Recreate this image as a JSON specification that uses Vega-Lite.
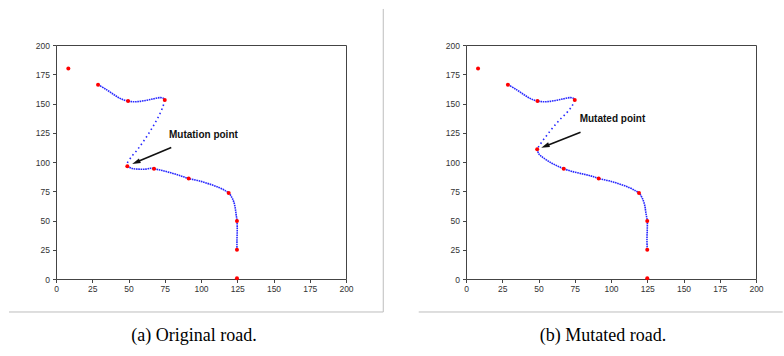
{
  "$schema": "https://vega.github.io/schema/vega-lite/v6.json",
  "padding": {"left": 8, "top": 7, "right": 0, "bottom": 0},
  "bounds": "flush",
  "spacing": 120,
  "background": "white",
  "config": {
    "view": {"stroke": "#444", "strokeWidth": 1},
    "axis": {"domain": false, "grid": false, "title": null, "tickColor": "#444", "tickSize": 3.5, "labelFont": "Liberation Sans", "labelFontSize": 8.5, "labelColor": "#333", "labelOverlap": false, "labelFlush": false},
    "axisX": {"labelPadding": 2},
    "axisY": {"labelPadding": 3},
    "title": {"font": "Liberation Serif", "fontSize": 18, "fontWeight": "normal", "color": "#000", "orient": "bottom", "offset": 15, "anchor": "middle"}
  },
  "datasets": {
    "origRed": [
      {"x": 8.5, "y": 180}, {"x": 29, "y": 166}, {"x": 49.7, "y": 152.1}, {"x": 75, "y": 152.9},
      {"x": 49.2, "y": 96.4}, {"x": 67.6, "y": 94.2}, {"x": 91.5, "y": 85.9}, {"x": 119.1, "y": 73.6},
      {"x": 124.8, "y": 49.6}, {"x": 124.8, "y": 25.1}, {"x": 124.8, "y": 0.6}
    ],
    "mutRed": [
      {"x": 8.3, "y": 180}, {"x": 28.9, "y": 166}, {"x": 49.3, "y": 152.1}, {"x": 75, "y": 152.9},
      {"x": 49.1, "y": 111}, {"x": 67.4, "y": 94.2}, {"x": 91.5, "y": 85.9}, {"x": 119.3, "y": 73.6},
      {"x": 125, "y": 49.6}, {"x": 125, "y": 25.1}, {"x": 125, "y": 0.6}
    ],
    "origBlue": [
      {"piece": "a", "style": "dense", "i": 0, "x": 29, "y": 166},
      {"piece": "a", "style": "dense", "i": 1, "x": 34.3, "y": 162.3},
      {"piece": "a", "style": "dense", "i": 2, "x": 40, "y": 157.5},
      {"piece": "a", "style": "dense", "i": 3, "x": 44.6, "y": 154.1},
      {"piece": "a", "style": "dense", "i": 4, "x": 49.7, "y": 152.1},
      {"piece": "a", "style": "dense", "i": 5, "x": 54.9, "y": 151.5},
      {"piece": "a", "style": "dense", "i": 6, "x": 61.8, "y": 152.6},
      {"piece": "a", "style": "dense", "i": 7, "x": 67.6, "y": 154.1},
      {"piece": "a", "style": "dense", "i": 8, "x": 72.2, "y": 155.0},
      {"piece": "a", "style": "dense", "i": 9, "x": 74.5, "y": 154.1},
      {"piece": "a", "style": "dense", "i": 10, "x": 75, "y": 152.9},
      {"piece": "b", "style": "sparse", "i": 11, "x": 75, "y": 152.9},
      {"piece": "b", "style": "sparse", "i": 12, "x": 73.8, "y": 147.5},
      {"piece": "b", "style": "sparse", "i": 13, "x": 71.0, "y": 139.5},
      {"piece": "b", "style": "sparse", "i": 14, "x": 67.6, "y": 131.8},
      {"piece": "b", "style": "sparse", "i": 15, "x": 64.1, "y": 124.7},
      {"piece": "b", "style": "sparse", "i": 16, "x": 60.2, "y": 117.5},
      {"piece": "b", "style": "sparse", "i": 17, "x": 56.1, "y": 110.4},
      {"piece": "b", "style": "sparse", "i": 18, "x": 52.2, "y": 104.7},
      {"piece": "b", "style": "sparse", "i": 19, "x": 49.2, "y": 99},
      {"piece": "b", "style": "sparse", "i": 20, "x": 49.2, "y": 96.4},
      {"piece": "c", "style": "dense", "i": 21, "x": 49.2, "y": 96.4},
      {"piece": "c", "style": "dense", "i": 22, "x": 52.6, "y": 94.4},
      {"piece": "c", "style": "dense", "i": 23, "x": 57.2, "y": 93.9},
      {"piece": "c", "style": "dense", "i": 24, "x": 61.8, "y": 93.9},
      {"piece": "c", "style": "dense", "i": 25, "x": 65.3, "y": 94.6},
      {"piece": "c", "style": "dense", "i": 26, "x": 67.6, "y": 94.2},
      {"piece": "c", "style": "dense", "i": 27, "x": 73.3, "y": 92.7},
      {"piece": "c", "style": "dense", "i": 28, "x": 80.2, "y": 90.4},
      {"piece": "c", "style": "dense", "i": 29, "x": 86, "y": 88.2},
      {"piece": "c", "style": "dense", "i": 30, "x": 91.5, "y": 85.9},
      {"piece": "c", "style": "dense", "i": 31, "x": 98.6, "y": 83.9},
      {"piece": "c", "style": "dense", "i": 32, "x": 105.5, "y": 81.3},
      {"piece": "c", "style": "dense", "i": 33, "x": 112.4, "y": 78.2},
      {"piece": "c", "style": "dense", "i": 34, "x": 117, "y": 75.3},
      {"piece": "c", "style": "dense", "i": 35, "x": 119.1, "y": 73.6},
      {"piece": "c", "style": "dense", "i": 36, "x": 121.6, "y": 69},
      {"piece": "c", "style": "dense", "i": 37, "x": 123.2, "y": 63.3},
      {"piece": "c", "style": "dense", "i": 38, "x": 124.1, "y": 56.2},
      {"piece": "c", "style": "dense", "i": 39, "x": 124.8, "y": 49.6},
      {"piece": "c", "style": "dense", "i": 40, "x": 125, "y": 41.9},
      {"piece": "c", "style": "dense", "i": 41, "x": 124.8, "y": 33.4},
      {"piece": "c", "style": "dense", "i": 42, "x": 124.8, "y": 25.1}
    ],
    "mutBlue": [
      {"piece": "a", "style": "dense", "i": 0, "x": 29, "y": 166},
      {"piece": "a", "style": "dense", "i": 1, "x": 34.3, "y": 162.3},
      {"piece": "a", "style": "dense", "i": 2, "x": 40, "y": 157.5},
      {"piece": "a", "style": "dense", "i": 3, "x": 44.6, "y": 154.1},
      {"piece": "a", "style": "dense", "i": 4, "x": 49.5, "y": 152.1},
      {"piece": "a", "style": "dense", "i": 5, "x": 54.9, "y": 151.5},
      {"piece": "a", "style": "dense", "i": 6, "x": 61.8, "y": 152.6},
      {"piece": "a", "style": "dense", "i": 7, "x": 67.6, "y": 154.1},
      {"piece": "a", "style": "dense", "i": 8, "x": 72.2, "y": 155.0},
      {"piece": "a", "style": "dense", "i": 9, "x": 74.5, "y": 154.1},
      {"piece": "a", "style": "dense", "i": 10, "x": 75, "y": 152.9},
      {"piece": "b", "style": "sparse", "i": 11, "x": 75, "y": 152.9},
      {"piece": "b", "style": "sparse", "i": 12, "x": 73.2, "y": 148.1},
      {"piece": "b", "style": "sparse", "i": 13, "x": 69.7, "y": 142.4},
      {"piece": "b", "style": "sparse", "i": 14, "x": 65.1, "y": 136.7},
      {"piece": "b", "style": "sparse", "i": 15, "x": 60.6, "y": 130.4},
      {"piece": "b", "style": "sparse", "i": 16, "x": 56, "y": 123.3},
      {"piece": "b", "style": "sparse", "i": 17, "x": 52.5, "y": 117.5},
      {"piece": "b", "style": "sparse", "i": 18, "x": 50.2, "y": 113.3},
      {"piece": "b", "style": "sparse", "i": 19, "x": 49.1, "y": 111},
      {"piece": "c", "style": "dense", "i": 20, "x": 49.1, "y": 111},
      {"piece": "c", "style": "dense", "i": 21, "x": 50.2, "y": 107},
      {"piece": "c", "style": "dense", "i": 22, "x": 53.7, "y": 103.3},
      {"piece": "c", "style": "dense", "i": 23, "x": 58.3, "y": 99.6},
      {"piece": "c", "style": "dense", "i": 24, "x": 62.8, "y": 96.7},
      {"piece": "c", "style": "dense", "i": 25, "x": 67.4, "y": 94.2},
      {"piece": "c", "style": "dense", "i": 26, "x": 73.2, "y": 91.9},
      {"piece": "c", "style": "dense", "i": 27, "x": 80, "y": 89.9},
      {"piece": "c", "style": "dense", "i": 28, "x": 85.8, "y": 88.2},
      {"piece": "c", "style": "dense", "i": 29, "x": 91.5, "y": 85.9},
      {"piece": "c", "style": "dense", "i": 30, "x": 98.6, "y": 83.9},
      {"piece": "c", "style": "dense", "i": 31, "x": 105.5, "y": 81.3},
      {"piece": "c", "style": "dense", "i": 32, "x": 112.4, "y": 78.2},
      {"piece": "c", "style": "dense", "i": 33, "x": 117, "y": 75.3},
      {"piece": "c", "style": "dense", "i": 34, "x": 119.3, "y": 73.6},
      {"piece": "c", "style": "dense", "i": 35, "x": 121.6, "y": 69},
      {"piece": "c", "style": "dense", "i": 36, "x": 123.2, "y": 63.3},
      {"piece": "c", "style": "dense", "i": 37, "x": 124.1, "y": 56.2},
      {"piece": "c", "style": "dense", "i": 38, "x": 125, "y": 49.6},
      {"piece": "c", "style": "dense", "i": 39, "x": 125, "y": 41.9},
      {"piece": "c", "style": "dense", "i": 40, "x": 124.8, "y": 33.4},
      {"piece": "c", "style": "dense", "i": 41, "x": 125, "y": 25.1}
    ],
    "origNote": [{"label": "Mutation point", "tx": 77.9, "ty": 123.1, "x1": 79.5, "y1": 112.4, "x2": 55.2, "y2": 99.7, "angle": 247.2}],
    "mutNote": [{"label": "Mutated point", "tx": 78.4, "ty": 136.5, "x1": 79.0, "y1": 125.4, "x2": 54.6, "y2": 113.5, "angle": 248.6}],
    "one": [{"k": 1}]
  },
  "hconcat": [
    {
      "width": 290, "height": 234,
      "title": {"text": "(a) Original road.", "dx": -7},
      "layer": [
        {
          "data": {"name": "origBlue"},
          "mark": {"type": "line", "interpolate": "catmull-rom", "stroke": "#1010ff", "strokeWidth": 1.6, "strokeOpacity": 0.9},
          "encoding": {
            "x": {"field": "x", "type": "quantitative", "scale": {"domain": [0, 200], "nice": false, "zero": false}, "axis": {"values": [0, 25, 50, 75, 100, 125, 150, 175, 200], "labelOverlap": false}},
            "y": {"field": "y", "type": "quantitative", "scale": {"domain": [0, 200], "nice": false, "zero": false}, "axis": {"values": [0, 25, 50, 75, 100, 125, 150, 175, 200], "labelOverlap": false}},
            "order": {"field": "i"},
            "detail": {"field": "piece"},
            "strokeDash": {"field": "style", "type": "nominal", "scale": {"domain": ["dense", "sparse"], "range": [[1.6, 0.7], [1.5, 3]]}, "legend": null}
          }
        },
        {
          "data": {"name": "origRed"},
          "mark": {"type": "point", "filled": true, "shape": "circle", "color": "#ff0000", "size": 16, "opacity": 1},
          "encoding": {
            "x": {"field": "x", "type": "quantitative", "axis": {"values": [0, 25, 50, 75, 100, 125, 150, 175, 200], "labelOverlap": false}},
            "y": {"field": "y", "type": "quantitative", "axis": {"values": [0, 25, 50, 75, 100, 125, 150, 175, 200], "labelOverlap": false}}
          }
        },
        {
          "data": {"name": "origNote"},
          "mark": {"type": "rule", "color": "#111", "strokeWidth": 1.6},
          "encoding": {
            "x": {"field": "x1", "type": "quantitative", "axis": {"values": [0, 25, 50, 75, 100, 125, 150, 175, 200], "labelOverlap": false}},
            "y": {"field": "y1", "type": "quantitative", "axis": {"values": [0, 25, 50, 75, 100, 125, 150, 175, 200], "labelOverlap": false}},
            "x2": {"field": "x2"}, "y2": {"field": "y2"}
          }
        },
        {
          "data": {"name": "origNote"},
          "mark": {"type": "point", "filled": true, "shape": "M0,-1L0.6,1L-0.6,1Z", "color": "#111", "size": 70, "opacity": 1},
          "encoding": {
            "x": {"field": "x2", "type": "quantitative", "axis": {"values": [0, 25, 50, 75, 100, 125, 150, 175, 200], "labelOverlap": false}},
            "y": {"field": "y2", "type": "quantitative", "axis": {"values": [0, 25, 50, 75, 100, 125, 150, 175, 200], "labelOverlap": false}},
            "angle": {"field": "angle", "type": "quantitative", "scale": null}
          }
        },
        {
          "data": {"name": "origNote"},
          "mark": {"type": "text", "align": "left", "baseline": "middle", "font": "Liberation Sans", "fontSize": 10, "fontWeight": "bold", "color": "#111"},
          "encoding": {
            "x": {"field": "tx", "type": "quantitative", "axis": {"values": [0, 25, 50, 75, 100, 125, 150, 175, 200], "labelOverlap": false}},
            "y": {"field": "ty", "type": "quantitative", "axis": {"values": [0, 25, 50, 75, 100, 125, 150, 175, 200], "labelOverlap": false}},
            "text": {"field": "label"}
          }
        },
        {
          "data": {"name": "one"},
          "mark": {"type": "rule", "color": "#bdbdbd", "strokeWidth": 1},
          "encoding": {
            "x": {"datum": -32.4, "type": "quantitative", "axis": {"values": [0, 25, 50, 75, 100, 125, 150, 175, 200], "labelOverlap": false}},
            "x2": {"datum": 225.7},
            "y": {"datum": -28.2, "type": "quantitative", "axis": {"values": [0, 25, 50, 75, 100, 125, 150, 175, 200], "labelOverlap": false}}
          }
        },
        {
          "data": {"name": "one"},
          "mark": {"type": "rule", "color": "#bdbdbd", "strokeWidth": 1},
          "encoding": {
            "x": {"datum": 225.7, "type": "quantitative", "axis": {"values": [0, 25, 50, 75, 100, 125, 150, 175, 200], "labelOverlap": false}},
            "y": {"datum": 230.8, "type": "quantitative", "axis": {"values": [0, 25, 50, 75, 100, 125, 150, 175, 200], "labelOverlap": false}},
            "y2": {"datum": -28.2}
          }
        }
      ]
    },
    {
      "width": 290, "height": 234,
      "title": {"text": "(b) Mutated road.", "dx": -8},
      "layer": [
        {
          "data": {"name": "mutBlue"},
          "mark": {"type": "line", "interpolate": "catmull-rom", "stroke": "#1010ff", "strokeWidth": 1.6, "strokeOpacity": 0.9},
          "encoding": {
            "x": {"field": "x", "type": "quantitative", "scale": {"domain": [0, 200], "nice": false, "zero": false}, "axis": {"values": [0, 25, 50, 75, 100, 125, 150, 175, 200], "labelOverlap": false}},
            "y": {"field": "y", "type": "quantitative", "scale": {"domain": [0, 200], "nice": false, "zero": false}, "axis": {"values": [0, 25, 50, 75, 100, 125, 150, 175, 200], "labelOverlap": false}},
            "order": {"field": "i"},
            "detail": {"field": "piece"},
            "strokeDash": {"field": "style", "type": "nominal", "scale": {"domain": ["dense", "sparse"], "range": [[1.6, 0.7], [1.5, 2.5]]}, "legend": null}
          }
        },
        {
          "data": {"name": "mutRed"},
          "mark": {"type": "point", "filled": true, "shape": "circle", "color": "#ff0000", "size": 16, "opacity": 1},
          "encoding": {
            "x": {"field": "x", "type": "quantitative", "axis": {"values": [0, 25, 50, 75, 100, 125, 150, 175, 200], "labelOverlap": false}},
            "y": {"field": "y", "type": "quantitative", "axis": {"values": [0, 25, 50, 75, 100, 125, 150, 175, 200], "labelOverlap": false}}
          }
        },
        {
          "data": {"name": "mutNote"},
          "mark": {"type": "rule", "color": "#111", "strokeWidth": 1.6},
          "encoding": {
            "x": {"field": "x1", "type": "quantitative", "axis": {"values": [0, 25, 50, 75, 100, 125, 150, 175, 200], "labelOverlap": false}},
            "y": {"field": "y1", "type": "quantitative", "axis": {"values": [0, 25, 50, 75, 100, 125, 150, 175, 200], "labelOverlap": false}},
            "x2": {"field": "x2"}, "y2": {"field": "y2"}
          }
        },
        {
          "data": {"name": "mutNote"},
          "mark": {"type": "point", "filled": true, "shape": "M0,-1L0.6,1L-0.6,1Z", "color": "#111", "size": 70, "opacity": 1},
          "encoding": {
            "x": {"field": "x2", "type": "quantitative", "axis": {"values": [0, 25, 50, 75, 100, 125, 150, 175, 200], "labelOverlap": false}},
            "y": {"field": "y2", "type": "quantitative", "axis": {"values": [0, 25, 50, 75, 100, 125, 150, 175, 200], "labelOverlap": false}},
            "angle": {"field": "angle", "type": "quantitative", "scale": null}
          }
        },
        {
          "data": {"name": "mutNote"},
          "mark": {"type": "text", "align": "left", "baseline": "middle", "font": "Liberation Sans", "fontSize": 10, "fontWeight": "bold", "color": "#111"},
          "encoding": {
            "x": {"field": "tx", "type": "quantitative", "axis": {"values": [0, 25, 50, 75, 100, 125, 150, 175, 200], "labelOverlap": false}},
            "y": {"field": "ty", "type": "quantitative", "axis": {"values": [0, 25, 50, 75, 100, 125, 150, 175, 200], "labelOverlap": false}},
            "text": {"field": "label"}
          }
        },
        {
          "data": {"name": "one"},
          "mark": {"type": "rule", "color": "#bdbdbd", "strokeWidth": 1},
          "encoding": {
            "x": {"datum": -32.6, "type": "quantitative", "axis": {"values": [0, 25, 50, 75, 100, 125, 150, 175, 200], "labelOverlap": false}},
            "x2": {"datum": 218.4},
            "y": {"datum": -28.2, "type": "quantitative", "axis": {"values": [0, 25, 50, 75, 100, 125, 150, 175, 200], "labelOverlap": false}}
          }
        }
      ]
    }
  ]
}
